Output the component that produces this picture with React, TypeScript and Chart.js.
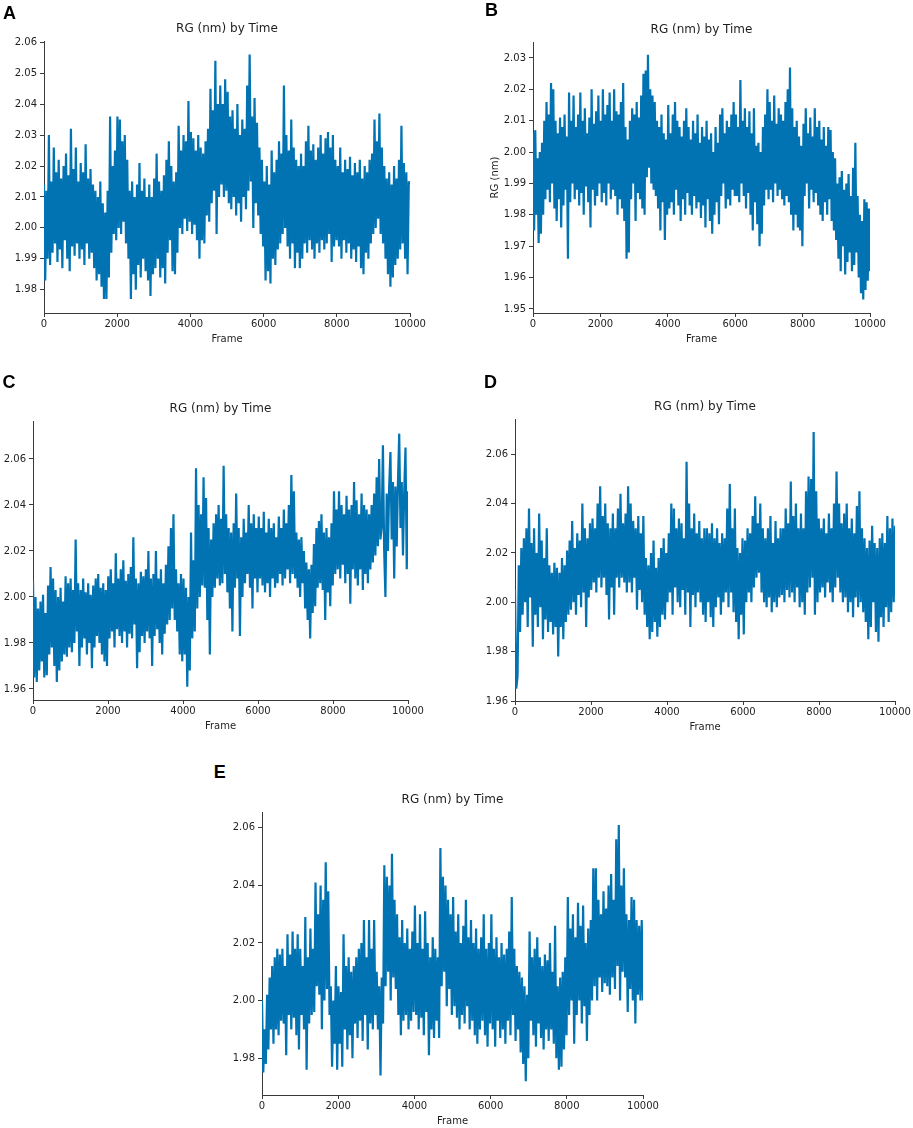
import React, { useEffect, useRef } from "react";
import { Chart, registerables } from "chart.js";

Chart.register(...registerables);
Chart.defaults.font.family = "'DejaVu Sans', 'Liberation Sans', sans-serif";

// ---------- data ----------
const FRAME_TICKS = [0, 2000, 4000, 6000, 8000, 10000];
const RG_TICKS_A = [1.98, 1.99, 2.0, 2.01, 2.02, 2.03, 2.04, 2.05, 2.06];
const RG_TICKS_B = [1.95, 1.96, 1.97, 1.98, 1.99, 2.0, 2.01, 2.02, 2.03];
const RG_TICKS_C = [1.96, 1.98, 2.0, 2.02, 2.04, 2.06];
const RG_TICKS_D = [1.96, 1.98, 2.0, 2.02, 2.04, 2.06];
const RG_TICKS_E = [1.98, 2.0, 2.02, 2.04, 2.06];

// RG (nm), evenly sampled over frames 0..10000, one row per 1000 frames
const RG_A = [
  2.014, 1.983, 2.012, 1.990, 2.030, 1.988, 2.015, 1.992, 2.026, 1.995, 2.018, 1.989, 2.022, 1.993, 2.016, 1.987, 2.020, 1.996, 2.024, 1.990, 2.017, 1.986, 2.032, 1.994, 2.019, 1.991, 2.026, 1.995, 2.015, 1.990,
  2.021, 1.993, 2.018, 1.988, 2.027, 1.995, 2.016, 1.990, 2.019, 1.992, 2.014, 1.987, 2.012, 1.983, 2.010, 1.985, 2.015, 1.981, 2.008, 1.977, 2.005, 1.977, 2.012, 1.984, 2.036, 1.992, 2.020, 1.998, 2.025, 1.996,
  2.036, 2.000, 2.035, 1.998, 2.028, 2.002, 2.030, 1.995, 2.022, 1.990, 2.012, 1.977, 2.015, 1.985, 2.010, 1.980, 2.014, 1.988, 2.021, 1.984, 2.012, 1.990, 2.016, 1.986, 2.010, 1.983, 2.014, 1.978, 2.010, 1.985,
  2.016, 1.987, 2.024, 1.990, 2.015, 1.984, 2.012, 1.987, 2.017, 1.982, 2.022, 1.992, 2.028, 1.996, 2.020, 1.986, 2.015, 1.985, 2.018, 1.992, 2.033, 2.000, 2.025, 1.998, 2.030, 2.003, 2.028, 1.999, 2.041, 2.002,
  2.031, 1.998, 2.029, 2.001, 2.025, 1.996, 2.030, 1.990, 2.026, 1.996, 2.024, 1.995, 2.028, 2.004, 2.032, 2.002, 2.045, 2.008, 2.038, 2.012, 2.054, 1.998, 2.040, 2.010, 2.046, 2.014, 2.040, 2.010, 2.048, 2.012,
  2.044, 2.008, 2.036, 2.006, 2.038, 2.010, 2.032, 2.004, 2.040, 2.008, 2.030, 2.002, 2.035, 2.010, 2.032, 2.006, 2.046, 2.012, 2.056, 2.015, 2.036, 2.000, 2.042, 2.008, 2.034, 2.004, 2.026, 1.998, 2.022, 1.994,
  2.015, 1.983, 2.020, 1.986, 2.014, 1.982, 2.025, 1.990, 2.018, 1.988, 2.022, 1.993, 2.028, 1.995, 2.024, 1.998, 2.046, 2.000, 2.030, 1.994, 2.025, 1.990, 2.035, 1.995, 2.026, 1.987, 2.022, 1.992, 2.020, 1.987,
  2.024, 1.990, 2.020, 1.995, 2.028, 1.992, 2.033, 1.996, 2.025, 1.993, 2.027, 1.990, 2.022, 1.995, 2.026, 1.992, 2.030, 1.996, 2.024, 1.993, 2.029, 1.995, 2.031, 1.998, 2.026, 1.989, 2.030, 1.994, 2.022, 1.996,
  2.020, 1.994, 2.026, 1.990, 2.018, 1.996, 2.022, 1.992, 2.019, 1.995, 2.023, 1.990, 2.017, 1.993, 2.021, 1.989, 2.018, 1.994, 2.022, 1.987, 2.016, 1.985, 2.020, 1.992, 2.018, 1.990, 2.022, 1.995, 2.024, 1.998,
  2.035, 2.000, 2.028, 2.003, 2.037, 1.998, 2.026, 1.995, 2.020, 1.990, 2.016, 1.985, 2.018, 1.981, 2.014, 1.984, 2.020, 1.988, 2.016, 1.990, 2.022, 1.993, 2.033, 1.995, 2.021, 1.990, 2.018, 1.985, 2.015, 2.014,
];

const RG_B = [
  2.006, 1.975, 2.007, 1.980, 1.998, 1.971, 2.000, 1.974, 2.003, 1.980, 2.010, 1.985, 2.016, 1.988, 2.012, 1.984, 2.022, 1.990, 2.020, 1.982, 2.010, 1.978, 2.006, 1.985, 2.011, 1.976, 2.008, 1.983, 2.012, 1.988,
  2.005, 1.966, 2.019, 1.984, 2.010, 1.990, 2.018, 1.985, 2.008, 1.988, 2.012, 1.983, 2.019, 1.987, 2.010, 1.980, 2.014, 1.989, 2.006, 1.984, 2.011, 1.976, 2.020, 1.988, 2.009, 1.983, 2.013, 1.986, 2.018, 1.990,
  2.010, 1.984, 2.020, 1.987, 2.012, 1.983, 2.015, 1.990, 2.019, 1.985, 2.010, 1.988, 2.020, 1.986, 2.013, 1.980, 2.012, 1.985, 2.016, 1.982, 2.022, 1.978, 2.008, 1.966, 2.004, 1.968, 2.010, 1.985, 2.014, 1.990,
  2.012, 1.978, 2.016, 1.987, 2.011, 1.985, 2.018, 1.982, 2.025, 1.980, 2.026, 1.992, 2.031, 1.995, 2.020, 1.990, 2.018, 1.988, 2.016, 1.986, 2.010, 1.982, 2.008, 1.975, 2.012, 1.984, 2.006, 1.972, 2.004, 1.980,
  2.015, 1.982, 2.006, 1.984, 2.012, 1.980, 2.016, 1.988, 2.010, 1.983, 2.008, 1.978, 2.005, 1.985, 2.010, 1.980, 2.014, 1.987, 2.008, 1.983, 2.004, 1.980, 2.010, 1.986, 2.006, 1.982, 2.012, 1.984, 2.003, 1.979,
  2.008, 1.983, 2.005, 1.976, 2.010, 1.985, 2.004, 1.978, 2.006, 1.974, 2.000, 1.980, 2.008, 1.984, 2.003, 1.977, 2.012, 1.986, 2.014, 1.990, 2.006, 1.982, 2.010, 1.985, 2.008, 1.983, 2.012, 1.988, 2.016, 1.986,
  2.012, 1.986, 2.008, 1.984, 2.023, 1.990, 2.010, 1.986, 2.014, 1.982, 2.008, 1.987, 2.013, 1.980, 2.006, 1.975, 2.014, 1.984, 2.002, 1.977, 2.003, 1.970, 2.000, 1.974, 2.008, 1.983, 2.012, 1.988, 2.020, 1.985,
  2.016, 1.988, 2.010, 1.984, 2.018, 1.990, 2.009, 1.986, 2.014, 1.988, 2.012, 1.985, 2.010, 1.983, 2.016, 1.986, 2.020, 1.984, 2.027, 1.980, 2.014, 1.975, 2.008, 1.980, 2.010, 1.976, 2.005, 1.975, 2.002, 1.970,
  2.009, 1.986, 2.014, 1.990, 2.006, 1.982, 2.011, 1.988, 2.005, 1.984, 2.014, 1.987, 2.008, 1.983, 2.010, 1.980, 2.004, 1.978, 2.008, 1.984, 2.002, 1.980, 2.008, 1.985, 2.007, 1.978, 2.000, 1.975, 1.998, 1.972,
  1.990, 1.966, 1.992, 1.962, 1.994, 1.970, 1.988, 1.961, 1.990, 1.965, 1.993, 1.968, 1.986, 1.962, 1.995, 1.964, 2.003, 1.968, 1.986, 1.960, 1.980, 1.955, 1.978, 1.953, 1.985, 1.956, 1.984, 1.959, 1.982, 1.962,
];

const RG_C = [
  2.007, 1.965, 2.000, 1.963, 1.995, 1.968, 1.998, 1.972, 2.001, 1.965, 1.993, 1.966, 2.005, 1.975, 2.013, 1.978, 2.008, 1.970, 2.003, 1.963, 2.000, 1.968, 2.004, 1.972, 1.998, 1.975, 2.009, 1.974, 2.006, 1.978,
  2.008, 1.976, 2.003, 1.980, 2.025, 1.985, 2.006, 1.970, 2.003, 1.978, 2.008, 1.982, 2.002, 1.975, 2.006, 1.980, 2.001, 1.969, 2.005, 1.978, 2.008, 1.983, 2.010, 1.980, 2.004, 1.975, 2.006, 1.972, 2.003, 1.970,
  2.009, 1.982, 2.012, 1.985, 2.006, 1.978, 2.019, 1.986, 2.008, 1.983, 2.012, 1.980, 2.016, 1.985, 2.007, 1.978, 2.010, 1.984, 2.013, 1.982, 2.026, 1.988, 2.008, 1.969, 2.006, 1.976, 2.011, 1.983, 2.009, 1.980,
  2.012, 1.985, 2.020, 1.982, 2.008, 1.970, 2.010, 1.983, 2.020, 1.986, 2.008, 1.980, 2.012, 1.975, 2.006, 1.984, 2.014, 1.988, 2.022, 1.990, 2.030, 1.995, 2.036, 1.990, 2.012, 1.985, 2.006, 1.975, 2.010, 1.972,
  2.008, 1.975, 2.004, 1.961, 2.000, 1.968, 2.028, 1.982, 2.016, 1.985, 2.056, 1.995, 2.040, 2.000, 2.036, 2.005, 2.052, 2.004, 2.043, 1.990, 2.030, 1.975, 2.025, 2.000, 2.032, 2.004, 2.036, 2.008, 2.040, 2.005,
  2.034, 2.006, 2.057, 2.010, 2.036, 2.002, 2.030, 1.995, 2.028, 1.985, 2.032, 2.004, 2.045, 2.008, 2.030, 1.983, 2.026, 2.000, 2.034, 2.006, 2.028, 2.010, 2.040, 2.004, 2.032, 1.995, 2.036, 2.008, 2.030, 2.002,
  2.035, 2.008, 2.030, 2.005, 2.037, 2.002, 2.028, 2.006, 2.034, 2.000, 2.030, 2.008, 2.032, 2.004, 2.026, 2.006, 2.035, 2.010, 2.030, 2.005, 2.038, 2.008, 2.032, 2.012, 2.040, 2.006, 2.053, 2.010, 2.046, 2.008,
  2.028, 2.004, 2.025, 2.000, 2.026, 2.006, 2.020, 1.995, 2.015, 1.990, 2.012, 1.982, 2.014, 1.993, 2.023, 1.996, 2.030, 2.004, 2.033, 2.006, 2.036, 2.003, 2.028, 1.990, 2.030, 2.002, 2.026, 1.996, 2.032, 2.005,
  2.046, 2.010, 2.038, 2.012, 2.046, 2.008, 2.040, 2.014, 2.036, 2.006, 2.044, 2.010, 2.038, 1.997, 2.040, 2.012, 2.050, 2.008, 2.042, 2.005, 2.036, 2.012, 2.045, 2.003, 2.040, 2.010, 2.038, 2.006, 2.036, 2.012,
  2.040, 2.015, 2.045, 2.018, 2.052, 2.022, 2.060, 2.025, 2.030, 2.066, 2.020, 2.000, 2.045, 2.020, 2.048, 2.063, 2.025, 2.050, 2.008, 2.048, 2.022, 2.050, 2.071, 2.030, 2.050, 2.018, 2.046, 2.065, 2.012, 2.046,
];

const RG_D = [
  2.005, 1.965, 1.970, 2.015, 1.988, 2.022, 1.995, 2.026, 2.000, 2.030, 1.990, 2.038, 2.002, 2.024, 1.982, 2.030, 1.995, 2.020, 1.990, 2.036, 1.998, 2.025, 1.985, 2.018, 1.993, 2.030, 1.988, 2.015, 1.992, 2.012,
  1.987, 2.016, 1.990, 2.014, 1.978, 2.012, 1.990, 2.018, 1.985, 2.015, 1.992, 2.021, 1.995, 2.025, 1.997, 2.033, 2.000, 2.022, 1.995, 2.028, 2.003, 2.025, 1.998, 2.040, 2.004, 2.030, 1.990, 2.026, 2.002, 2.032,
  2.005, 2.034, 2.008, 2.030, 2.004, 2.040, 2.010, 2.047, 2.006, 2.035, 2.010, 2.040, 2.003, 2.032, 1.993, 2.030, 2.006, 2.036, 1.995, 2.030, 2.010, 2.038, 2.006, 2.044, 2.010, 2.032, 2.008, 2.036, 2.004, 2.047,
  2.008, 2.040, 2.004, 2.033, 2.010, 2.030, 1.997, 2.035, 2.005, 2.028, 2.000, 2.035, 1.995, 2.018, 1.990, 2.015, 1.985, 2.020, 1.988, 2.025, 1.992, 2.014, 1.986, 2.018, 1.990, 2.022, 1.995, 2.026, 1.993, 2.020,
  2.000, 2.028, 2.004, 2.040, 1.995, 2.038, 2.006, 2.030, 2.000, 2.034, 1.998, 2.032, 2.005, 2.026, 1.995, 2.057, 2.004, 2.040, 1.990, 2.030, 2.003, 2.036, 1.998, 2.028, 2.004, 2.033, 2.000, 2.026, 1.995, 2.030,
  1.992, 2.030, 2.000, 2.028, 1.994, 2.032, 1.990, 2.026, 1.998, 2.030, 2.002, 2.024, 1.995, 2.028, 2.000, 2.026, 2.004, 2.038, 1.998, 2.048, 2.004, 2.030, 1.996, 2.038, 1.992, 2.022, 1.985, 2.020, 1.995, 2.026,
  1.987, 2.025, 2.000, 2.030, 2.004, 2.028, 2.000, 2.035, 2.006, 2.043, 2.010, 2.032, 2.012, 2.040, 2.004, 2.030, 2.000, 2.026, 1.998, 2.030, 2.002, 2.035, 1.996, 2.024, 2.000, 2.033, 1.998, 2.026, 2.002, 2.030,
  2.003, 2.030, 2.000, 2.038, 2.005, 2.032, 2.002, 2.049, 2.004, 2.035, 2.000, 2.040, 2.006, 2.030, 1.998, 2.036, 2.000, 2.030, 1.995, 2.045, 2.004, 2.051, 2.006, 2.050, 2.010, 2.069, 1.995, 2.045, 2.000, 2.034,
  2.004, 2.030, 2.006, 2.034, 2.002, 2.028, 2.008, 2.036, 2.004, 2.030, 2.000, 2.040, 2.006, 2.053, 2.010, 2.040, 2.004, 2.032, 2.000, 2.036, 2.002, 2.040, 1.996, 2.030, 2.000, 2.034, 1.994, 2.028, 2.002, 2.039,
  1.998, 2.045, 2.000, 2.030, 1.996, 2.026, 1.992, 2.022, 1.985, 2.025, 1.990, 2.031, 2.000, 2.024, 1.988, 2.022, 1.984, 2.026, 1.994, 2.028, 1.990, 2.024, 1.998, 2.035, 1.992, 2.030, 1.996, 2.034, 2.000, 2.031,
];

const RG_E = [
  2.000, 1.975, 1.990, 1.978, 2.002, 1.983, 2.008, 1.990, 2.012, 1.985, 2.015, 1.990, 2.018, 1.988, 2.016, 1.993, 2.018, 1.992, 2.012, 1.981, 2.023, 1.995, 2.016, 1.990, 2.024, 1.994, 2.018, 1.988, 2.023, 1.983,
  2.018, 1.995, 2.012, 1.990, 2.029, 1.976, 2.015, 1.992, 2.025, 1.995, 2.018, 1.996, 2.041, 2.005, 2.030, 2.002, 2.040, 1.990, 2.035, 2.000, 2.048, 2.004, 2.038, 1.995, 2.005, 1.977, 2.000, 1.985, 2.012, 1.976,
  2.005, 1.985, 2.003, 1.977, 2.023, 1.990, 2.012, 1.983, 2.015, 1.988, 2.010, 1.980, 2.012, 1.992, 2.015, 1.987, 2.018, 1.993, 2.020, 1.986, 2.028, 1.995, 2.015, 1.983, 2.028, 1.992, 2.018, 1.990, 2.028, 1.995,
  2.010, 1.990, 2.005, 1.974, 2.008, 1.992, 2.047, 2.005, 2.043, 2.010, 2.040, 2.000, 2.051, 2.008, 2.035, 2.004, 2.030, 1.995, 2.022, 1.988, 2.028, 1.993, 2.020, 1.995, 2.025, 1.990, 2.018, 1.993, 2.024, 1.996,
  2.033, 1.995, 2.020, 1.990, 2.030, 1.994, 2.018, 1.988, 2.031, 1.996, 2.020, 1.981, 2.015, 1.990, 2.022, 1.987, 2.018, 1.993, 2.015, 1.987, 2.053, 2.005, 2.043, 2.010, 2.040, 1.998, 2.035, 2.004, 2.030, 1.995,
  2.036, 1.998, 2.024, 1.994, 2.030, 1.990, 2.020, 1.995, 2.026, 1.992, 2.035, 1.998, 2.022, 1.990, 2.028, 1.993, 2.020, 1.988, 2.025, 1.985, 2.018, 1.990, 2.022, 1.993, 2.030, 1.988, 2.018, 1.984, 2.020, 1.992,
  2.030, 1.990, 2.018, 1.984, 2.022, 1.993, 2.015, 1.987, 2.020, 1.990, 2.016, 1.985, 2.018, 1.993, 2.024, 1.988, 2.036, 1.995, 2.018, 1.986, 2.012, 1.990, 2.010, 1.982, 2.008, 1.978, 2.005, 1.972, 2.002, 1.980,
  2.024, 1.993, 2.015, 1.988, 2.018, 1.984, 2.022, 1.992, 2.015, 1.987, 2.012, 1.983, 2.016, 1.990, 2.014, 1.986, 2.020, 1.990, 2.010, 1.985, 2.026, 1.980, 2.005, 1.976, 2.008, 1.977, 2.010, 1.983, 2.015, 1.988,
  2.036, 1.995, 2.025, 2.000, 2.030, 1.985, 2.022, 1.995, 2.034, 2.000, 2.026, 1.992, 2.033, 1.998, 2.020, 1.986, 2.025, 1.995, 2.028, 2.000, 2.046, 2.005, 2.046, 2.000, 2.035, 2.008, 2.030, 2.003, 2.038, 2.006,
  2.032, 2.005, 2.040, 2.002, 2.044, 2.008, 2.035, 2.004, 2.056, 2.012, 2.061, 2.000, 2.040, 2.010, 2.046, 2.008, 2.030, 1.996, 2.028, 2.004, 2.036, 2.000, 2.035, 1.992, 2.028, 2.002, 2.026, 2.000, 2.028, 2.000,
];

// ---------- layout / style ----------
const LINE_BLUE = "#0173b2";
const AXIS_COLOR = "#3a3a3a";
const TEXT_COLOR = "#1e1e1e";
const TITLE_H = 30;
const XAXIS_H = 32;
const RIGHT_PAD = 22;

type PanelSpec = {
  letter: string;
  values: number[];
  yTicks: number[];
  yMin: number;
  yMax: number;
  yTitle?: string;
  plot: [number, number, number, number];
  yw: number;
  letterPos: [number, number];
};

const PANELS: PanelSpec[] = [
  { letter: "A", values: RG_A, yTicks: RG_TICKS_A, yMin: 1.9725, yMax: 2.0604, plot: [44, 41, 410, 313], yw: 44, letterPos: [3, 3.6] },
  { letter: "B", values: RG_B, yTicks: RG_TICKS_B, yMin: 1.9487, yMax: 2.0351, yTitle: "RG (nm)", plot: [533, 42, 870, 313], yw: 46, letterPos: [485, 1] },
  { letter: "C", values: RG_C, yTicks: RG_TICKS_C, yMin: 1.9552, yMax: 2.0765, plot: [33, 421, 408, 700], yw: 33, letterPos: [2.5, 373.3] },
  { letter: "D", values: RG_D, yTicks: RG_TICKS_D, yMin: 1.96, yMax: 2.0743, plot: [515, 419, 895, 701], yw: 40, letterPos: [484, 373.3] },
  { letter: "E", values: RG_E, yTicks: RG_TICKS_E, yMin: 1.9672, yMax: 2.0655, plot: [262, 812, 643, 1095], yw: 40, letterPos: [213.7, 762.6] },
];

function Panel({ spec }: { spec: PanelSpec }) {
  const ref = useRef<HTMLCanvasElement | null>(null);
  const [pl, pt, pr, pb] = spec.plot;
  const width = pr - pl + spec.yw + RIGHT_PAD;
  const height = pb - pt + TITLE_H + XAXIS_H;

  useEffect(() => {
    const canvas = ref.current;
    if (!canvas) return;
    const n = spec.values.length;
    const points = spec.values.map((v, i) => ({ x: (i * 10000) / (n - 1), y: v }));
    const gridOpts = {
      drawOnChartArea: false,
      drawTicks: true,
      tickLength: 4,
      color: AXIS_COLOR,
      lineWidth: 1,
    };
    const chart = new Chart(canvas, {
      type: "line",
      data: {
        datasets: [
          {
            data: points,
            borderColor: LINE_BLUE,
            backgroundColor: LINE_BLUE,
            borderWidth: 2.2,
            borderJoinStyle: "bevel",
            pointRadius: 0,
            tension: 0,
            fill: false,
          },
        ],
      },
      options: {
        animation: false,
        responsive: false,
        parsing: false,
        normalized: true,
        events: [],
        layout: { padding: { left: 0, right: RIGHT_PAD, top: 0, bottom: 0 } },
        plugins: {
          legend: { display: false },
          tooltip: { enabled: false },
          title: {
            display: true,
            text: "RG (nm) by Time",
            fullSize: false,
            color: TEXT_COLOR,
            font: { size: 12, weight: "normal", lineHeight: 1.2 },
            padding: { top: TITLE_H - 14.4 - 5.3, bottom: 5.3 },
          },
        },
        scales: {
          x: {
            type: "linear",
            min: 0,
            max: 10000,
            bounds: "data",
            afterBuildTicks: (s: any) => {
              s.ticks = FRAME_TICKS.map((v) => ({ value: v }));
            },
            afterFit: (s: any) => {
              s.height = XAXIS_H;
            },
            grid: gridOpts,
            border: { display: true, color: AXIS_COLOR, width: 1 },
            ticks: {
              padding: 1,
              autoSkip: false,
              maxRotation: 0,
              color: TEXT_COLOR,
              font: { size: 10 },
              callback: (v: any) => String(v),
            },
            title: {
              display: true,
              text: "Frame",
              color: TEXT_COLOR,
              font: { size: 10, lineHeight: 1.2 },
              padding: { top: 0, bottom: 0 },
            },
          },
          y: {
            type: "linear",
            min: spec.yMin,
            max: spec.yMax,
            bounds: "data",
            afterBuildTicks: (s: any) => {
              s.ticks = spec.yTicks.map((v) => ({ value: v }));
            },
            afterFit: (s: any) => {
              s.width = spec.yw;
            },
            grid: gridOpts,
            border: { display: true, color: AXIS_COLOR, width: 1 },
            ticks: {
              padding: 3,
              autoSkip: false,
              color: TEXT_COLOR,
              font: { size: 10 },
              callback: (v: any) => Number(v).toFixed(2),
            },
            title: spec.yTitle
              ? {
                  display: true,
                  text: spec.yTitle,
                  color: TEXT_COLOR,
                  font: { size: 10, lineHeight: 1.2 },
                  padding: { top: 2.3, bottom: 0 },
                }
              : { display: false },
          },
        },
      } as any,
    });
    return () => chart.destroy();
  }, [spec]);

  return (
    <>
      <canvas
        ref={ref}
        width={width}
        height={height}
        style={{
          position: "absolute",
          left: pl - spec.yw,
          top: pt - TITLE_H,
          width,
          height,
        }}
      />
      <div
        style={{
          position: "absolute",
          left: spec.letterPos[0],
          top: spec.letterPos[1],
          fontFamily: "'Liberation Sans', Arial, sans-serif",
          fontWeight: "bold",
          fontSize: 18,
          lineHeight: "18px",
          color: "#000",
        }}
      >
        {spec.letter}
      </div>
    </>
  );
}

export default function App() {
  useEffect(() => {
    document.body.style.margin = "0";
  }, []);
  return (
    <div
      style={{
        position: "absolute",
        left: 0,
        top: 0,
        width: 913,
        height: 1128,
        background: "#fff",
        overflow: "hidden",
      }}
    >
      {PANELS.map((p) => (
        <Panel key={p.letter} spec={p} />
      ))}
    </div>
  );
}
